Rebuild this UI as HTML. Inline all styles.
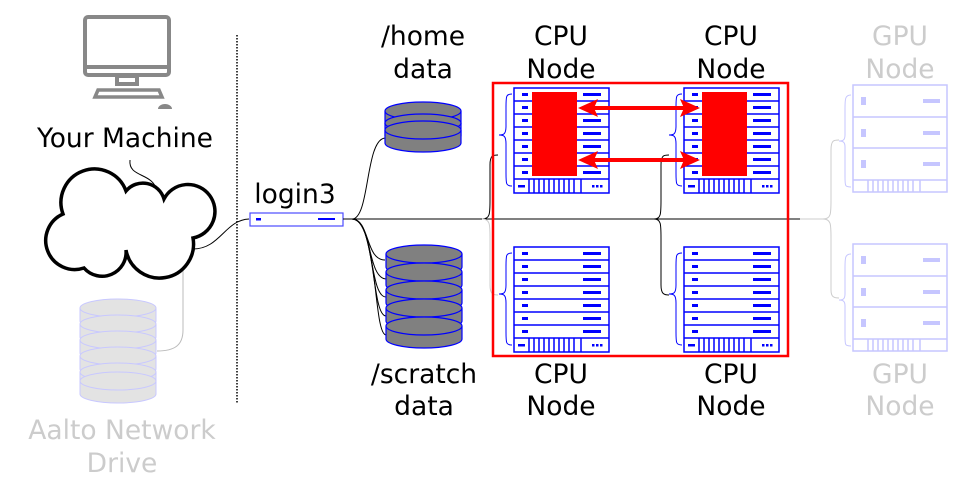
<!DOCTYPE html>
<html><head><meta charset="utf-8"><style>
html,body{margin:0;padding:0;background:#fff;}
svg{display:block;}
text{font-family:"DejaVu Sans","Liberation Sans",sans-serif;font-size:26.5px;text-anchor:middle;}
</style></head><body>
<svg width="977" height="488" viewBox="0 0 977 488" xmlns="http://www.w3.org/2000/svg">
<defs>
<g id="cpu">
  <rect x="0" y="0" width="95" height="105" fill="#fff" stroke="#00f" stroke-width="1.5"/>
  <g stroke="#00f" stroke-width="1.5">
    <line x1="0" y1="13" x2="95" y2="13"/><line x1="0" y1="26" x2="95" y2="26"/>
    <line x1="0" y1="39" x2="95" y2="39"/><line x1="0" y1="52" x2="95" y2="52"/>
    <line x1="0" y1="65" x2="95" y2="65"/><line x1="0" y1="78" x2="95" y2="78"/>
    <line x1="0" y1="91" x2="95" y2="91"/>
    <line x1="15" y1="91" x2="15" y2="105"/><line x1="20" y1="91" x2="20" y2="105"/>
    <line x1="25" y1="91" x2="25" y2="105"/><line x1="30" y1="91" x2="30" y2="105"/>
    <line x1="35" y1="91" x2="35" y2="105"/><line x1="40" y1="91" x2="40" y2="105"/>
    <line x1="45" y1="91" x2="45" y2="105"/><line x1="50" y1="91" x2="50" y2="105"/>
    <line x1="55" y1="91" x2="55" y2="105"/><line x1="60" y1="91" x2="60" y2="105"/>
    <line x1="67" y1="91" x2="67" y2="105"/>
  </g>
  <g fill="#00f">
    <rect x="8" y="5" width="6" height="3"/><rect x="8" y="18" width="6" height="3"/>
    <rect x="8" y="31" width="6" height="3"/><rect x="8" y="44" width="6" height="3"/>
    <rect x="8" y="57" width="6" height="3"/><rect x="8" y="70" width="6" height="3"/>
    <rect x="8" y="83" width="6" height="3"/>
    <rect x="69" y="5" width="18" height="3"/><rect x="69" y="18" width="18" height="3"/>
    <rect x="69" y="31" width="18" height="3"/><rect x="69" y="44" width="18" height="3"/>
    <rect x="69" y="57" width="18" height="3"/><rect x="69" y="70" width="18" height="3"/>
    <rect x="69" y="83" width="18" height="3"/>
    <rect x="4" y="97" width="7" height="2.5"/>
    <rect x="78" y="97" width="2.5" height="2.5"/><rect x="82" y="97" width="2.5" height="2.5"/><rect x="86" y="97" width="2.5" height="2.5"/>
  </g>
  <path d="M-2,6 C-8,6 -8,8 -8,20 L-8,38 C-8,46 -10,47 -15,47 C-10,47 -8,48 -8,56 L-8,85 C-8,96 -8,98 -2,98" fill="none" stroke="#00f" stroke-width="1"/>
</g>
<g id="gpu" opacity="0.22">
  <rect x="0" y="0" width="94" height="107" fill="#fff" stroke="#00f" stroke-width="1.5"/>
  <g stroke="#00f" stroke-width="1.5">
    <line x1="0" y1="32" x2="94" y2="32"/><line x1="0" y1="63" x2="94" y2="63"/>
    <line x1="0" y1="95" x2="94" y2="95"/>
    <line x1="15" y1="95" x2="15" y2="107"/><line x1="20" y1="95" x2="20" y2="107"/>
    <line x1="25" y1="95" x2="25" y2="107"/><line x1="30" y1="95" x2="30" y2="107"/>
    <line x1="35" y1="95" x2="35" y2="107"/><line x1="40" y1="95" x2="40" y2="107"/>
    <line x1="45" y1="95" x2="45" y2="107"/><line x1="50" y1="95" x2="50" y2="107"/>
    <line x1="55" y1="95" x2="55" y2="107"/><line x1="60" y1="95" x2="60" y2="107"/>
    <line x1="67" y1="95" x2="67" y2="107"/>
  </g>
  <g fill="#00f">
    <rect x="8" y="12" width="5" height="8"/><rect x="8" y="44" width="5" height="8"/><rect x="8" y="75" width="5" height="8"/>
    <rect x="70" y="14" width="17" height="4"/><rect x="70" y="46" width="17" height="4"/><rect x="70" y="77" width="17" height="4"/>
  </g>
  <path d="M-2,10 C-8,10 -8,14 -8,24 L-8,50 C-8,55 -10,56 -14,56 C-10,56 -8,57 -8,62 L-8,92 C-8,101 -8,102 -2,102" fill="none" stroke="#00f" stroke-width="1"/>
</g>
<g id="disc">
  <path d="M0,0 L0,13 A38,9 0 0 0 76,13 L76,0" fill="#808080" stroke="#00f" stroke-width="1.2"/>
  <ellipse cx="38" cy="0" rx="38" ry="9" fill="#808080" stroke="#00f" stroke-width="1.2"/>
</g>
<g id="discl">
  <path d="M0,0 L0,13 A38,9 0 0 0 76,13 L76,0" fill="#e3e3e3" stroke="#c8c8ff" stroke-width="1"/>
  <ellipse cx="38" cy="0" rx="38" ry="9" fill="#e3e3e3" stroke="#c8c8ff" stroke-width="1"/>
</g>
</defs>

<!-- monitor -->
<g fill="none" stroke="#888" stroke-width="4">
  <rect x="85" y="17" width="84" height="58" rx="3"/>
  <line x1="85" y1="67" x2="169" y2="67"/>
</g>
<rect x="117" y="76" width="20" height="8" fill="#fff" stroke="#888" stroke-width="4"/>
<path d="M95,97 L98,90 L159,90 L162,97 Z" fill="#fff" stroke="#888" stroke-width="3.5"/>
<path d="M158,109 a7,5 0 0 1 14,0 Z" fill="#888"/>
<text x="125" y="147">Your Machine</text>

<!-- dotted divider -->
<line x1="237" y1="35" x2="237" y2="403" stroke="#000" stroke-width="1.5" stroke-dasharray="1.5,1.5"/>

<!-- connectors left -->
<path d="M130,160 C128,178 153,172 157,191" fill="none" stroke="#000" stroke-width="1"/>
<path d="M193,249 C220,249 225,220 249,219" fill="none" stroke="#000" stroke-width="1"/>
<path d="M183,270 L183,330 C183,345 175,351 157,351" fill="none" stroke="#bbb" stroke-width="1"/>

<!-- cloud -->
<path d="M63,214 A27,27 0 0 1 126,191 A22,22 0 0 1 164,199 A27,27 0 1 1 193,238 A28,28 0 0 1 126,250 A24,24 0 0 1 84,268 A29,29 0 0 1 63,214 Z" fill="#fff" stroke="#000" stroke-width="3.5"/>

<!-- aalto drive -->
<use href="#discl" x="80" y="308"/>
<use href="#discl" x="80" y="324"/>
<use href="#discl" x="80" y="340"/>
<use href="#discl" x="80" y="356"/>
<use href="#discl" x="80" y="372"/>
<use href="#discl" x="80" y="381"/>
<text x="122" y="439" fill="#ccc">Aalto Network</text>
<text x="122" y="472" fill="#ccc">Drive</text>

<!-- login -->
<text x="295" y="203">login3</text>
<rect x="250" y="213" width="93" height="13" fill="#fff" stroke="#00f" stroke-width="1.2" opacity="0.7"/>
<rect x="256" y="218" width="5" height="2.5" fill="#00f"/>
<rect x="318" y="218" width="17" height="2" fill="#00f"/>

<!-- main line -->
<line x1="343" y1="219" x2="800" y2="219" stroke="#000" stroke-width="1"/>
<line x1="800" y1="219" x2="823" y2="219" stroke="#ccc" stroke-width="1"/>

<!-- connectors to storage -->
<g fill="none" stroke="#000" stroke-width="1">
<path d="M352,219 C370,219 365,140 385,138"/>
<path d="M352,219 C370,219 365,260 385,260"/>
<path d="M352,219 C372,219 367,278 386,279"/>
<path d="M352,219 C374,219 369,297 386,297"/>
<path d="M352,219 C376,219 371,316 386,316"/>
<path d="M352,219 C378,219 373,334 386,335"/>
</g>

<!-- home -->
<use href="#disc" x="385" y="111"/>
<use href="#disc" x="385" y="123"/>
<use href="#disc" x="385" y="130"/>
<text x="423" y="45">/home</text>
<text x="423" y="78">data</text>

<!-- scratch -->
<use href="#disc" x="386" y="254"/>
<use href="#disc" x="386" y="272"/>
<use href="#disc" x="386" y="290"/>
<use href="#disc" x="386" y="308"/>
<use href="#disc" x="386" y="326"/>
<text x="424" y="383">/scratch</text>
<text x="424" y="415">data</text>

<!-- brace connectors to cpu racks -->
<g fill="none" stroke="#000" stroke-width="1">
<path d="M482,219 C490,219 490,214 490,200 L490,165 C490,155 493,155 498,155"/>
<path d="M654,219 C661,219 661,214 661,200 L661,165 C661,155 664,155 669,155"/>
<path d="M654,219 C661,219 661,224 661,238 L661,285 C661,294 664,295 669,295"/>
</g>
<path d="M482,219 C490,219 490,224 490,238 L490,285 C490,294 493,295 498,295" fill="none" stroke="#ccc" stroke-width="1"/>
<path d="M823,219 C831,219 831,214 831,200 L831,150 C831,140 834,140 839,140" fill="none" stroke="#ccc" stroke-width="1"/>
<path d="M823,219 C831,219 831,224 831,238 L831,290 C831,297 834,298 839,298" fill="none" stroke="#ccc" stroke-width="1"/>

<!-- racks -->
<use href="#cpu" x="514" y="88"/>
<use href="#cpu" x="684" y="88"/>
<use href="#cpu" x="514" y="247"/>
<use href="#cpu" x="684" y="247"/>
<use href="#gpu" x="853" y="85"/>
<use href="#gpu" x="853" y="244"/>

<!-- red blocks and arrows -->
<rect x="532" y="92" width="45" height="84" fill="#f00"/>
<rect x="702" y="92" width="45" height="84" fill="#f00"/>
<g fill="#f00">
<rect x="590" y="106" width="98" height="4"/>
<path d="M578,108 L598,99 L594,108 L598,117 Z"/>
<path d="M700,108 L680,99 L684,108 L680,117 Z"/>
<rect x="590" y="158" width="98" height="4"/>
<path d="M578,160 L598,151 L594,160 L598,169 Z"/>
<path d="M700,160 L680,151 L684,160 L680,169 Z"/>
</g>

<!-- red frame -->
<rect x="493" y="83" width="295" height="273" fill="none" stroke="#f00" stroke-width="2.5"/>

<!-- labels -->
<text x="561" y="45">CPU</text><text x="561" y="78">Node</text>
<text x="731" y="45">CPU</text><text x="731" y="78">Node</text>
<text x="900" y="45" fill="#ccc">GPU</text><text x="900" y="78" fill="#ccc">Node</text>
<text x="561" y="383">CPU</text><text x="561" y="415">Node</text>
<text x="731" y="383">CPU</text><text x="731" y="415">Node</text>
<text x="900" y="383" fill="#ccc">GPU</text><text x="900" y="415" fill="#ccc">Node</text>
</svg>
</body></html>
